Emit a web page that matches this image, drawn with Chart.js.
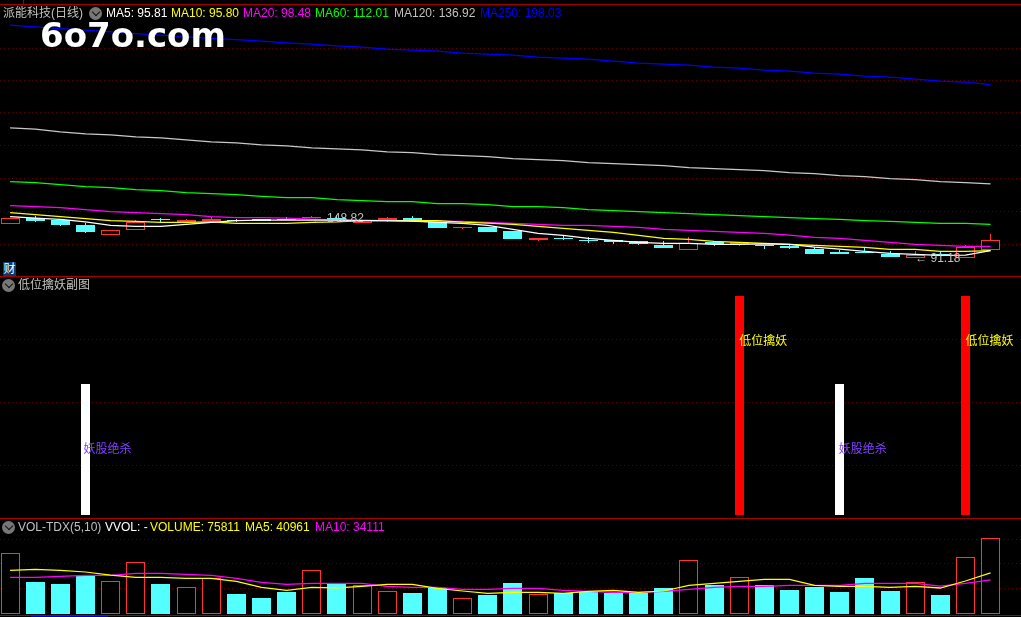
<!DOCTYPE html>
<html>
<head>
<meta charset="utf-8">
<title>派能科技(日线)</title>
<script src="https://cdn.jsdelivr.net/npm/chart.js@4/dist/chart.umd.min.js"></script>
<style>
  html, body { margin: 0; padding: 0; background: #000; width: 1021px; height: 617px; overflow: hidden; }
  canvas { position: absolute; left: 0; }
  .rule { position: absolute; left: 0; width: 1021px; height: 1px; background: #a80000; }
  .txt { position: absolute; font: 12px "Liberation Sans", "Noto Sans CJK SC", sans-serif; line-height: 14px; white-space: nowrap; color: #c0c0c0; }
  .toggle { position: absolute; width: 13px; height: 13px; border-radius: 50%; background: #777; }
  .toggle::after { content: ""; position: absolute; left: 3.5px; top: 2px; width: 5px; height: 5px; border-right: 1px solid #111; border-bottom: 1px solid #111; transform: rotate(45deg); }
  #stamp { left: 40px; top: 13px; font: bold 34px "DejaVu Sans", sans-serif; line-height: 44px; color: #fff; }
  #cai { left: 3px; top: 262px; width: 13px; height: 14px; background: #0a3a6e; color: #fff; text-align: center; }
</style>
</head>
<body>
<canvas id="priceChart" width="1021" height="276" style="top:0"></canvas>
<canvas id="signalChart" width="1021" height="240" style="top:278px"></canvas>
<canvas id="volChart" width="1021" height="96" style="top:519px"></canvas>

<div class="rule" style="top:4px"></div>
<div class="rule" style="top:276px"></div>
<div class="rule" style="top:518px"></div>
<div class="rule" style="top:615px"></div>
<div style="position:absolute;left:23px;top:0;width:1px;height:4px;background:#a80000"></div>
<div style="position:absolute;left:31px;top:616px;width:77px;height:1px;background:#0000c0"></div>

<div class="txt" style="left:3px;top:6px">派能科技(日线)</div>
<div class="toggle" style="left:89px;top:7px"></div>
<div class="txt" style="left:106px;top:6px;color:#fff">MA5: 95.81</div>
<div class="txt" style="left:171px;top:6px;color:#ff0">MA10: 95.80</div>
<div class="txt" style="left:243px;top:6px;color:#f0f">MA20: 98.48</div>
<div class="txt" style="left:315px;top:6px;color:#0f0">MA60: 112.01</div>
<div class="txt" style="left:394px;top:6px">MA120: 136.92</div>
<div class="txt" style="left:480px;top:6px;color:#00f">MA250: 198.03</div>
<div class="txt" id="stamp">6o7o.com</div>
<div class="txt" id="cai">财</div>

<div class="toggle" style="left:2px;top:279px"></div>
<div class="txt" style="left:18px;top:278px">低位擒妖副图</div>

<div class="toggle" style="left:2px;top:521px"></div>
<div class="txt" style="left:18px;top:520px">VOL-TDX(5,10)</div>
<div class="txt" style="left:105px;top:520px;color:#fff">VVOL: -</div>
<div class="txt" style="left:150px;top:520px;color:#ff0">VOLUME: 75811</div>
<div class="txt" style="left:245px;top:520px;color:#ff0">MA5: 40961</div>
<div class="txt" style="left:315px;top:520px;color:#f0f">MA10: 34111</div>

<script>
const opens = [112.33,116.01,114.78,111.53,105.58,108.65,115.21,113.37,113.98,114.41,115.21,115.21,115.82,116.13,112.57,114.60,115.82,113.37,109.87,110.30,107.85,102.33,103.55,102.33,102.33,101.53,99.26,96.38,101.10,99.87,99.44,98.64,96.81,94.96,95.15,93.92,91.28,93.55,91.28,96.38];
const closes = [116.25,113.98,111.71,107.24,108.46,113.55,114.78,114.60,115.21,113.98,114.41,114.60,116.87,114.60,114.90,115.82,114.41,109.69,110.30,107.24,102.94,103.55,103.12,101.90,101.10,99.87,97.42,100.30,99.69,100.91,98.64,97.42,93.74,93.74,94.35,91.90,92.94,92.69,97.85,102.14];
const highs = [116.25,117.05,114.78,112.76,108.46,114.60,116.01,115.21,116.62,115.21,115.21,116.44,117.05,117.66,114.90,116.62,117.05,113.37,110.30,110.30,107.85,103.55,104.96,104.17,102.33,101.53,101.71,104.17,101.10,100.91,99.44,99.44,98.03,96.38,97.42,95.58,95.58,95.15,99.26,106.01];
const lows = [112.33,113.37,111.10,106.62,105.58,108.65,113.19,113.37,113.98,113.37,114.41,114.60,115.82,113.98,112.57,113.37,114.41,109.69,109.07,107.24,102.94,101.71,102.33,100.49,99.87,99.44,97.42,96.38,98.64,98.64,96.81,96.81,93.74,93.74,94.35,91.90,91.18,92.69,91.28,96.38];

const ma5 = [116.87,115.82,115.03,113.55,111.34,110.73,110.73,111.96,113.19,114.41,114.60,114.60,114.60,114.60,114.29,114.29,113.98,113.19,112.57,111.34,108.89,106.44,105.21,103.37,102.14,100.91,100.30,100.30,99.69,99.69,100.06,99.69,98.03,96.81,95.40,94.17,93.55,92.94,93.12,95.81];
const ma10 = [119.32,118.09,116.87,115.64,114.41,113.80,113.19,113.19,113.55,112.57,112.57,112.57,113.19,113.55,114.41,114.41,114.41,114.41,113.37,112.76,111.96,110.73,109.50,108.28,107.05,105.21,103.37,102.76,101.53,100.91,100.30,99.69,99.08,98.46,97.85,96.62,96.62,95.40,95.40,95.80];
const ma20 = [123.61,123.00,122.39,121.16,119.93,119.32,118.70,118.09,116.87,116.25,116.25,115.82,115.21,114.60,114.60,114.41,113.80,113.80,113.80,113.19,112.57,111.96,111.34,111.34,110.73,110.12,108.89,108.28,107.67,107.05,106.44,105.39,103.98,103.37,102.14,100.91,99.69,99.08,98.46,98.48];
const ma60 = [138.34,137.73,136.50,135.27,134.66,133.43,132.82,131.59,130.98,130.36,129.32,128.52,128.52,127.30,126.68,126.07,126.07,124.84,124.84,124.23,123.00,123.00,122.39,121.16,120.55,119.93,119.32,118.71,118.09,117.48,116.87,116.25,115.64,115.03,114.41,113.80,113.19,112.57,112.57,112.01];
const ma120 = [171.47,170.67,169.01,167.79,167.17,165.95,165.33,164.11,162.88,162.27,161.04,160.42,159.20,158.59,157.97,156.74,156.13,154.90,154.29,153.68,152.45,151.84,151.22,150.00,149.38,148.77,148.15,146.93,146.31,145.70,145.09,143.86,143.25,142.02,141.41,140.18,139.57,138.34,137.73,136.92];
const ma250 = [234.66,233.62,232.57,231.59,230.55,229.51,228.52,227.48,226.56,225.76,224.84,223.80,223.00,221.96,221.16,219.93,219.32,218.71,217.48,216.87,216.25,215.03,214.41,213.80,212.57,211.35,210.73,210.12,208.89,208.28,207.05,206.44,205.21,204.60,203.37,202.76,201.53,200.30,199.69,198.03];
const priceGrid = [99.7,119.9,140.2,160.4,180.7,200.9,220.5];

// null means no signal that day
const _ = null;
const yaoSignal = [_,_,_,0.6,_,_,_,_,_,_,_,_,_,_,_,_,_,_,_,_,_,_,_,_,_,_,_,_,_,_,_,_,_,0.6,_,_,_,_,_,_];
const qinSignal = [_,_,_,_,_,_,_,_,_,_,_,_,_,_,_,_,_,_,_,_,_,_,_,_,_,_,_,_,_,1,_,_,_,_,_,_,_,_,1,_];
const signalGrid = [0.228,0.514,0.8];

const volume = [60700,31860,29850,38190,32560,51660,29850,26530,35580,19800,15780,21810,43620,29850,28540,22510,20800,26130,15480,18790,30850,19500,20800,22110,20800,20800,25830,53670,28840,36580,28840,23820,26830,21810,35880,22810,31560,18790,56680,75811];
const volMa5 = [43620,44620,43620,41910,38890,36580,36580,35580,35580,32560,26530,23520,26530,25830,27540,29550,29550,25530,22810,20500,21510,21510,20500,22510,23520,21510,22810,28540,30550,32560,34570,34570,28540,27540,27540,26530,27540,25830,32860,40961];
const volMa10 = [36580,36580,37590,38590,38590,40600,40600,39600,38590,35580,31560,29550,30550,30550,30550,27540,26530,26530,24520,24520,25530,25530,23520,22510,21510,21510,22510,24520,26530,27540,27540,28540,28540,28540,30550,30550,30550,27840,30550,34111];
const volGrid = [25000,50000,75000];

const RED = '#ff3333', CYAN = '#54ffff', GRID = '#5c0000', PURPLE = '#8040ff';

const points = arr => arr.map((y, x) => ({ x, y }));
const up = i => closes[i] >= opens[i];

function line(data, color) {
  return { type: 'line', data: points(data), borderColor: color, borderWidth: 1.25, pointRadius: 0, tension: 0, order: 1 };
}

// the terminal draws on whole pixels, so snap the bars too
const snapBars = {
  id: 'snapBars',
  afterDatasetsUpdate(chart) {
    chart.getSortedVisibleDatasetMetas().forEach(meta => {
      if (meta.type !== 'bar') return;
      meta.data.forEach(el => {
        if (el.skip) return;
        el.x = Math.round(el.x - el.width / 2) + el.width / 2;
        el.y = Math.round(el.y);
        el.base = Math.round(el.base);
        if (el.y === el.base) el.y -= 1;
      });
    });
  }
};

function noteLabels(notes) {
  return {
    id: 'noteLabels',
    afterDatasetsDraw(chart) {
      const { ctx, scales } = chart;
      ctx.save();
      ctx.font = '12px "Liberation Sans", "Noto Sans CJK SC", sans-serif';
      ctx.textBaseline = 'middle';
      notes.forEach(n => {
        ctx.fillStyle = n.color;
        ctx.fillText(n.text, scales.x.getPixelForValue(n.i) + n.dx, scales.y.getPixelForValue(n.v));
      });
      ctx.restore();
    }
  };
}

function makeChart(id, datasets, yMin, yMax, grid, notes) {
  return new Chart(document.getElementById(id), {
    data: { datasets },
    plugins: [snapBars, noteLabels(notes)],
    options: {
      responsive: false,
      animation: false,
      events: [],
      layout: { padding: 0 },
      plugins: { legend: { display: false }, tooltip: { enabled: false } },
      scales: {
        x: { type: 'linear', display: false, offset: false, min: -0.402, max: 40.21 },
        y: {
          min: yMin,
          max: yMax,
          afterBuildTicks: s => { s.ticks = grid.map(value => ({ value })); },
          ticks: { display: false },
          border: { display: false, dash: [1, 3] },
          grid: { color: GRID, lineWidth: 1, drawTicks: false }
        }
      }
    }
  });
}

makeChart('priceChart', [
  line(ma5, '#ffffff'),
  line(ma10, '#ffff00'),
  line(ma20, '#ff00ff'),
  line(ma60, '#00ff00'),
  line(ma120, '#c8c8c8'),
  line(ma250, '#0000ff'),
  {
    type: 'bar',
    data: opens.map((o, i) => ({ x: i, y: [o, closes[i]] })),
    backgroundColor: opens.map((o, i) => up(i) ? '#000' : CYAN),
    borderColor: opens.map((o, i) => up(i) ? RED : CYAN),
    borderWidth: 1,
    borderSkipped: false,
    inflateAmount: 0,
    barThickness: 19,
    grouped: false,
    order: 2
  },
  {
    type: 'bar',
    data: highs.map((h, i) => ({ x: i, y: [lows[i], h] })),
    backgroundColor: opens.map((o, i) => up(i) ? RED : CYAN),
    inflateAmount: 0,
    barThickness: 1,
    grouped: false,
    order: 3
  }
], 80.24, 250.18, priceGrid, [
  { i: 12, v: 115.8, dx: 0, color: '#c0c0c0', text: '← 148.82' },
  { i: 36, v: 91.18, dx: 0, color: '#c0c0c0', text: '← 91.18' }
]);

makeChart('signalChart', [
  { type: 'bar', data: points(yaoSignal), backgroundColor: '#ffffff', inflateAmount: 0, barThickness: 9, grouped: false },
  { type: 'bar', data: points(qinSignal), backgroundColor: '#ff0000', inflateAmount: 0, barThickness: 9, grouped: false }
], -0.0137, 1.0822, signalGrid, [
  { i: 3, v: 0.296, dx: -2, color: PURPLE, text: '妖股绝杀' },
  { i: 33, v: 0.296, dx: -1, color: PURPLE, text: '妖股绝杀' },
  { i: 29, v: 0.792, dx: 0, color: '#ffff00', text: '低位擒妖' },
  { i: 38, v: 0.792, dx: 0, color: '#ffff00', text: '低位擒妖' }
]);

makeChart('volChart', [
  line(volMa5, '#ffff00'),
  line(volMa10, '#ff00ff'),
  {
    type: 'bar',
    data: points(volume),
    backgroundColor: volume.map((v, i) => up(i) ? '#000' : CYAN),
    borderColor: volume.map((v, i) => up(i) ? RED : CYAN),
    borderWidth: 1,
    borderSkipped: false,
    inflateAmount: 0,
    barThickness: 19,
    grouped: false,
    order: 2
  }
], -1307, 95174, volGrid, []);
</script>
</body>
</html>
